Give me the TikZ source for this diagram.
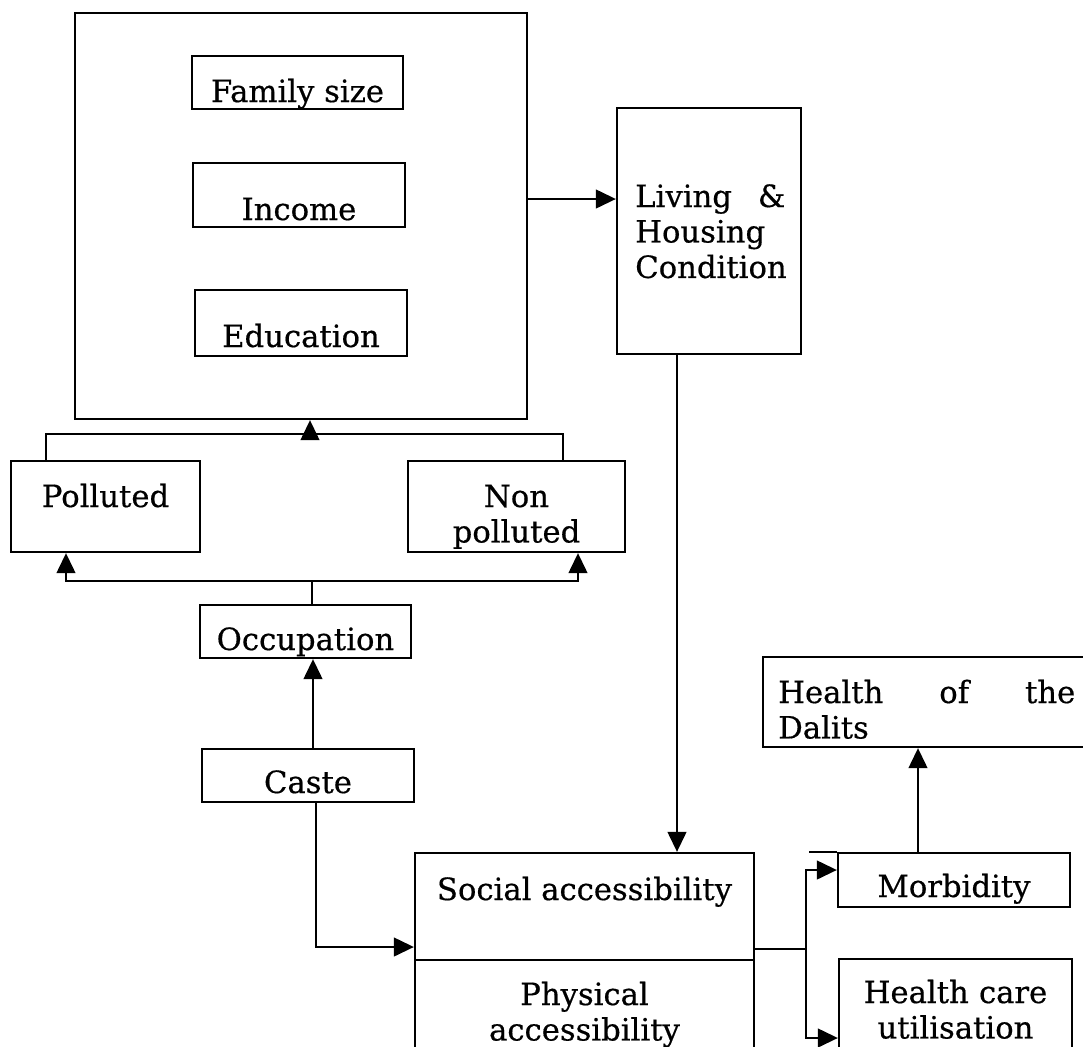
\documentclass[tikz,border=0pt]{standalone}
\usepackage{fontspec}
\setmainfont{DejaVu Serif}[FakeBold=0.5]
\usetikzlibrary{arrows.meta,fit}
\begin{document}
\begin{tikzpicture}[x=0.75pt,y=-0.75pt,
  box/.style={draw, line width=1.7pt, inner sep=0pt},
  txt/.style={font=\fontsize{23pt}{26.6pt}\selectfont, inner sep=0pt, anchor=base},
  conn/.style={line width=1.7pt},
  arr/.style={line width=1.7pt, -{Triangle[length=15pt,width=14pt]}},
]
\useasboundingbox[fill=white] (0,0) rectangle (1083,1047);
\clip (0,0) rectangle (1083,1047);

% boxes
\node[box, fit={(75,13) (527,419)}] (big) {};
\node[box, fit={(192,56) (403,109)}] (fam) {};
\node[box, fit={(193,163) (405,227)}] (inc) {};
\node[box, fit={(195,290) (407,356)}] (edu) {};
\node[box, fit={(617,108) (801,354)}] (liv) {};
\node[box, fit={(11,461) (200,552)}] (pol) {};
\node[box, fit={(408,461) (625,552)}] (npol) {};
\node[box, fit={(200,605) (411,658)}] (occ) {};
\node[box, fit={(202,749) (414,802)}] (cas) {};
\node[box, fit={(415,853) (754,960)}] (soc) {};
\node[box, fit={(415,960) (754,1070)}] (phy) {};
\node[box, fit={(763,657) (1110,747)}] (hod) {};
\node[box, fit={(838,853) (1070,907)}] (mor) {};
\node[box, fit={(839,959) (1072,1070)}] (hcu) {};

% texts
\node[txt] (famT) at (297.5,102) {Family size};
\node[txt] (incT) at (299,220) {Income};
\node[txt] (eduT) at (301,347) {Education};
\node[txt, anchor=base west, text width=112.5pt, align=left] (livT) at (635,207) {Living\hfill\&\\Housing\\Condition};
\node[txt] (polT) at (105.5,507) {Polluted};
\node[txt, text width=150pt, align=center] (npolT) at (516.5,507) {Non\\polluted};
\node[txt] (occT) at (305.5,650) {Occupation};
\node[txt] (casT) at (308,793) {Caste};
\node[txt] (socT) at (584.5,900) {Social accessibility};
\node[txt, text width=240pt, align=center] (phyT) at (584.5,1005) {Physical\\accessibility};
\node[txt, anchor=base west, text width=222.75pt, align=left] (hodT) at (778,703) {Health\hfill of\hfill the\\Dalits};
\node[txt] (morT) at (954,897) {Morbidity};
\node[txt, text width=170pt, align=center] (hcuT) at (955.5,1003) {Health care\\utilisation};

% connector coordinates
\coordinate (a1) at (0,199);
\coordinate (xp) at (46,434);
\coordinate (xn) at (563,434);
\coordinate (j1) at (310,434);
\coordinate (j2) at (312,581);
\coordinate (yp) at (66,581);
\coordinate (yn) at (578,581);
\coordinate (x313) at (313,0);
\coordinate (k) at (316,947);
\coordinate (x677) at (677,0);
\coordinate (b) at (806,949);
\coordinate (bu) at (806,870);
\coordinate (bd) at (806,1038);
\coordinate (x918) at (918,0);

% connectors
\draw[arr] (big.east |- a1) -- (liv.west |- a1);
\draw[conn] (pol.north -| xp) -- (xp) -- (xn) -- (npol.north -| xn);
\draw[arr] (j1) -- (big.south -| j1);
\draw[conn] (occ.north -| j2) -- (j2);
\draw[arr] (j2) -- (yp) -- (pol.south -| yp);
\draw[arr] (j2) -- (yn) -- (npol.south -| yn);
\draw[arr] (cas.north -| x313) -- (occ.south -| x313);
\draw[arr] (cas.south -| k) -- (k) -- (soc.west |- k);
\draw[arr] (liv.south -| x677) -- (soc.north -| x677);
\draw[conn] (soc.east |- b) -- (b);
\draw[arr] (b) -- (bu) -- (mor.west |- bu);
\draw[arr] (b) -- (bd) -- (hcu.west |- bd);
\draw[arr] (mor.north -| x918) -- (hod.south -| x918);
\draw[conn] (mor.north west) -- ++(-28,0);
\end{tikzpicture}
\end{document}
